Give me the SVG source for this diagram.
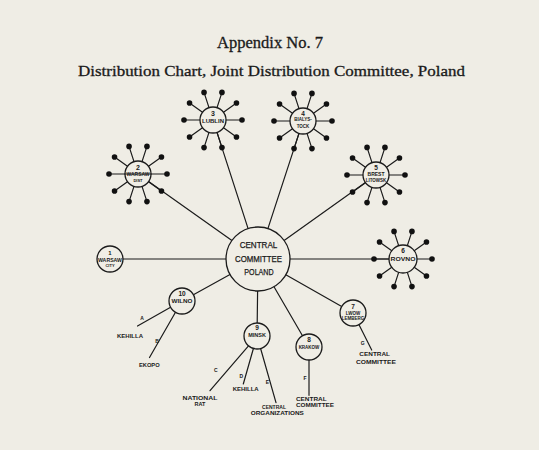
<svg xmlns="http://www.w3.org/2000/svg" xmlns:xlink="http://www.w3.org/1999/xlink" width="539" height="450" viewBox="0 0 539 450">
<style>
.ln{stroke:#1b1b1b;stroke-width:1.2;fill:none;stroke-linecap:round}
.nd{fill:#f0eee6;stroke:#1b1b1b;stroke-width:1.3}
.dot{fill:#111}
.lb{font-family:"Liberation Sans",Arial,sans-serif;font-weight:bold;fill:#1a1a1a;text-anchor:middle}
.cc{font-family:"Liberation Sans",Arial,sans-serif;fill:#1a1a1a;stroke:#1a1a1a;stroke-width:0.25;text-anchor:middle;font-size:9px}
.tt{font-family:"Liberation Serif","Times New Roman",serif;fill:#1a1a1a;stroke:#1a1a1a;stroke-width:0.3;text-anchor:middle}
</style>
<defs>
<g id="star">
<path class="ln" d="M4.02,-12.36L8.96,-27.58M10.52,-7.64L23.46,-17.05M13,0L29,0M10.52,7.64L23.46,17.05M4.02,12.36L8.96,27.58M-4.02,12.36L-8.96,27.58M-10.52,7.64L-23.46,17.05M-13,0L-29,0M-10.52,-7.64L-23.46,-17.05M-4.02,-12.36L-8.96,-27.58"/>
<g class="dot">
<circle cx="8.96" cy="-27.58" r="2.8"/><circle cx="23.46" cy="-17.05" r="2.8"/><circle cx="29" cy="0" r="2.8"/><circle cx="23.46" cy="17.05" r="2.8"/><circle cx="8.96" cy="27.58" r="2.8"/>
<circle cx="-8.96" cy="27.58" r="2.8"/><circle cx="-23.46" cy="17.05" r="2.8"/><circle cx="-29" cy="0" r="2.8"/><circle cx="-23.46" cy="-17.05" r="2.8"/><circle cx="-8.96" cy="-27.58" r="2.8"/>
</g>
</g>
</defs>
<rect width="539" height="450" fill="#efede5"/>
<g id="title">
<text class="tt" x="270" y="47.7" font-size="16" textLength="106" lengthAdjust="spacingAndGlyphs">Appendix No. 7</text>
<text class="tt" x="271.5" y="75.5" font-size="15" textLength="387" lengthAdjust="spacingAndGlyphs">Distribution Chart, Joint Distribution Committee, Poland</text>
</g>
<g id="connectors">
<line class="ln" x1="226" y1="259" x2="123" y2="259" stroke-width="1.8"/>
<line class="ln" x1="231.9" y1="240.5" x2="148.6" y2="181.5"/>
<line class="ln" x1="248.1" y1="228.6" x2="217" y2="132.4"/>
<line class="ln" x1="267.9" y1="228.6" x2="299" y2="133.4"/>
<line class="ln" x1="284.1" y1="240.4" x2="365.4" y2="182.5"/>
<line class="ln" x1="290" y1="259" x2="390" y2="259"/>
<line class="ln" x1="285.8" y1="274.8" x2="341.7" y2="306.6"/>
<line class="ln" x1="274" y1="286.7" x2="302.5" y2="335.8"/>
<line class="ln" x1="257.6" y1="291" x2="257.2" y2="323"/>
<line class="ln" x1="230" y1="274.5" x2="193.4" y2="294.7"/>
<line class="ln" x1="170.6" y1="307.3" x2="137.5" y2="326"/>
<line class="ln" x1="175.5" y1="312.2" x2="149.5" y2="357.5"/>
<line class="ln" x1="248.5" y1="345.9" x2="210" y2="390.7"/>
<line class="ln" x1="253.4" y1="348.5" x2="243.3" y2="384"/>
<line class="ln" x1="260.6" y1="348.5" x2="276" y2="402.7"/>
<line class="ln" x1="309" y1="360" x2="309" y2="395.3"/>
<line class="ln" x1="358.9" y1="324.6" x2="371.7" y2="350"/>
</g>
<g id="central">
<circle class="nd" cx="258" cy="259" r="32"/>
<text class="cc" x="258.5" y="248.3" textLength="37.7" lengthAdjust="spacingAndGlyphs">CENTRAL</text>
<text class="cc" x="258.5" y="261.7" textLength="47" lengthAdjust="spacingAndGlyphs">COMMITTEE</text>
<text class="cc" x="259" y="275" textLength="29.3" lengthAdjust="spacingAndGlyphs">POLAND</text>
</g>
<g id="node1">
<circle class="nd" cx="110" cy="259" r="13"/>
<text class="lb" x="110" y="255" font-size="6">1</text>
<text class="lb" x="110" y="261.5" font-size="5.5" textLength="24" lengthAdjust="spacingAndGlyphs">WARSAW</text>
<text class="lb" x="110" y="266.5" font-size="4">CITY</text>
</g>
<g id="node2">
<use xlink:href="#star" href="#star" transform="translate(138,174)"/>
<circle class="nd" cx="138" cy="174" r="13"/>
<line class="ln" x1="125" y1="174" x2="151" y2="174" stroke-width="0.9"/>
<text class="lb" x="138" y="170" font-size="7">2</text>
<text class="lb" x="138" y="176" font-size="5.5" textLength="23" lengthAdjust="spacingAndGlyphs">WARSAW</text>
<text class="lb" x="138" y="182" font-size="4">DIST</text>
</g>
<g id="node3">
<use xlink:href="#star" href="#star" transform="translate(213,120)"/>
<circle class="nd" cx="213" cy="120" r="13"/>
<text class="lb" x="213" y="115.5" font-size="7">3</text>
<text class="lb" x="213" y="122.5" font-size="5.5" textLength="22" lengthAdjust="spacingAndGlyphs">LUBLIN</text>
</g>
<g id="node4">
<use xlink:href="#star" href="#star" transform="translate(303,121)"/>
<circle class="nd" cx="303" cy="121" r="13"/>
<text class="lb" x="303" y="115.5" font-size="6.5">4</text>
<text class="lb" x="303" y="121" font-size="4.5">BIALYS-</text>
<text class="lb" x="303" y="128" font-size="4.5">TOCK</text>
</g>
<g id="node5">
<use xlink:href="#star" href="#star" transform="translate(376,175)"/>
<circle class="nd" cx="376" cy="175" r="13"/>
<text class="lb" x="376" y="169.5" font-size="6.5">5</text>
<text class="lb" x="376" y="175.8" font-size="5">BREST</text>
<text class="lb" x="376" y="181.5" font-size="4.5">LITOWSK</text>
</g>
<g id="node6">
<use xlink:href="#star" href="#star" transform="translate(403,259)"/>
<circle class="nd" cx="403" cy="259" r="14"/>
<text class="lb" x="403" y="253" font-size="6.5">6</text>
<text class="lb" x="403" y="261" font-size="6" textLength="25" lengthAdjust="spacingAndGlyphs">ROVNO</text>
</g>
<g id="node7">
<circle class="nd" cx="353" cy="313" r="13"/>
<text class="lb" x="353" y="308.5" font-size="6.5">7</text>
<text class="lb" x="353" y="314.5" font-size="4.5">LWOW</text>
<text class="lb" x="353" y="320" font-size="4.5">LEMBERG</text>
</g>
<g id="node8">
<circle class="nd" cx="309" cy="347" r="13"/>
<text class="lb" x="309" y="342" font-size="6.5">8</text>
<text class="lb" x="309" y="349" font-size="4.5">KRAKOW</text>
</g>
<g id="node9">
<circle class="nd" cx="257" cy="336" r="13"/>
<text class="lb" x="257" y="330" font-size="6.5">9</text>
<text class="lb" x="257" y="337" font-size="5.5">MINSK</text>
</g>
<g id="node10">
<circle class="nd" cx="182" cy="301" r="13"/>
<text class="lb" x="182" y="296" font-size="6.5">10</text>
<text class="lb" x="182" y="303" font-size="6" textLength="21" lengthAdjust="spacingAndGlyphs">WILNO</text>
</g>
<g id="labels">
<text class="lb" x="142" y="320" font-size="5">A</text>
<text class="lb" x="157" y="342.5" font-size="5">B</text>
<text class="lb" x="215.7" y="371.5" font-size="5">C</text>
<text class="lb" x="241.3" y="377.5" font-size="5">D</text>
<text class="lb" x="267.3" y="383.5" font-size="5">E</text>
<text class="lb" x="305" y="380" font-size="5">F</text>
<text class="lb" x="362.7" y="345" font-size="5">G</text>
<text class="lb" x="130" y="338" font-size="5.5" textLength="26" lengthAdjust="spacingAndGlyphs">KEHILLA</text>
<text class="lb" x="149.3" y="367" font-size="5.5" textLength="20.7" lengthAdjust="spacingAndGlyphs">EKOPO</text>
<text class="lb" x="200" y="399.5" font-size="5.5" textLength="35" lengthAdjust="spacingAndGlyphs">NATIONAL</text>
<text class="lb" x="200" y="406" font-size="5.5">RAT</text>
<text class="lb" x="245.7" y="390.7" font-size="5.5" textLength="26" lengthAdjust="spacingAndGlyphs">KEHILLA</text>
<text class="lb" x="274" y="408.5" font-size="4.5" textLength="24" lengthAdjust="spacingAndGlyphs">CENTRAL</text>
<text class="lb" x="277.3" y="415.3" font-size="5.5" textLength="53" lengthAdjust="spacingAndGlyphs">ORGANIZATIONS</text>
<text class="lb" x="311.3" y="400.5" font-size="5.5" textLength="30.7" lengthAdjust="spacingAndGlyphs">CENTRAL</text>
<text class="lb" x="315" y="406.8" font-size="5.5" textLength="38" lengthAdjust="spacingAndGlyphs">COMMITTEE</text>
<text class="lb" x="374.7" y="356.3" font-size="5.5" textLength="30.7" lengthAdjust="spacingAndGlyphs">CENTRAL</text>
<text class="lb" x="376" y="363.5" font-size="5.5" textLength="40" lengthAdjust="spacingAndGlyphs">COMMITTEE</text>
</g>
</svg>
